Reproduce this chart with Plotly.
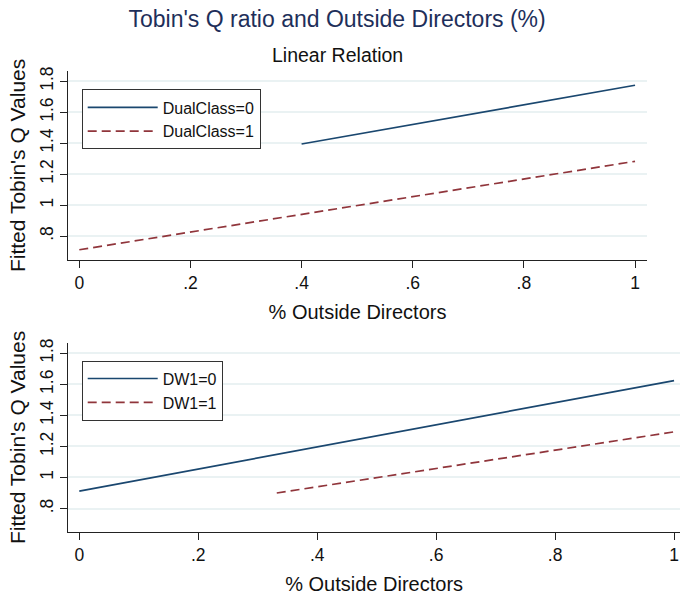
import plotly.graph_objects as go

# ---- data ----
x_ticks = [0, 0.2, 0.4, 0.6, 0.8, 1]
x_tick_labels = ["0", ".2", ".4", ".6", ".8", "1"]
y_ticks = [0.8, 1.0, 1.2, 1.4, 1.6, 1.8]
y_tick_labels = [".8", "1", "1.2", "1.4", "1.6", "1.8"]

dual0_x = [0.4, 1.0]
dual0_y = [1.395, 1.774]
dual1_x = [0.0, 1.0]
dual1_y = [0.712, 1.283]

dw0_x = [0.0, 1.0]
dw0_y = [0.912, 1.624]
dw1_x = [0.332, 1.0]
dw1_y = [0.900, 1.294]

BLUE = "#1a476f"
RED = "#90353b"
GRID = "#eaf2f3"
FONT = "Liberation Sans, Arial, sans-serif"

W, H = 681, 600

fig = go.Figure()
fig.add_trace(go.Scatter(x=dual0_x, y=dual0_y, mode="lines", name="DualClass=0",
                         line=dict(color=BLUE, width=1.7), xaxis="x", yaxis="y", legend="legend"))
fig.add_trace(go.Scatter(x=dual1_x, y=dual1_y, mode="lines", name="DualClass=1",
                         line=dict(color=RED, width=1.7, dash="9px,5px"), xaxis="x", yaxis="y", legend="legend"))
fig.add_trace(go.Scatter(x=dw0_x, y=dw0_y, mode="lines", name="DW1=0",
                         line=dict(color=BLUE, width=1.7), xaxis="x2", yaxis="y2", legend="legend2"))
fig.add_trace(go.Scatter(x=dw1_x, y=dw1_y, mode="lines", name="DW1=1",
                         line=dict(color=RED, width=1.7, dash="9px,5px"), xaxis="x2", yaxis="y2", legend="legend2"))

def xaxis(domain, rng, anchor):
    return dict(domain=domain, range=rng, anchor=anchor, tickvals=x_ticks, ticktext=x_tick_labels,
                showgrid=False, zeroline=False, showline=True, linecolor="#222", linewidth=1,
                ticks="outside", ticklen=7, tickcolor="#222", tickwidth=1,
                tickfont=dict(size=17.5, color="#111", family=FONT),
                title=dict(text="% Outside Directors", font=dict(size=20, color="#111", family=FONT), standoff=12))

def yaxis(domain, rng, anchor):
    return dict(domain=domain, range=rng, anchor=anchor, tickvals=y_ticks, ticktext=y_tick_labels,
                showgrid=True, gridcolor=GRID, gridwidth=1.5, zeroline=False, showline=True,
                linecolor="#222", linewidth=1, ticks="outside", ticklen=7, tickcolor="#222", tickwidth=1,
                tickangle=-90, tickfont=dict(size=17.5, color="#111", family=FONT),
                title=dict(text="Fitted Tobin's Q Values", font=dict(size=21, color="#111", family=FONT), standoff=5))

legend_style = dict(xanchor="left", yanchor="top", bordercolor="#333", borderwidth=1, bgcolor="white",
                    font=dict(size=16, color="#111", family=FONT), itemwidth=70)

fig.update_layout(
    width=W, height=H,
    margin=dict(l=0, r=0, t=0, b=0),
    paper_bgcolor="white", plot_bgcolor="white",
    font=dict(family=FONT),
    title=dict(text="Tobin's Q ratio and Outside Directors (%)", x=0.495, xanchor="center",
               y=1 - 19 / H, yanchor="middle", font=dict(size=23, color="#1e2f5a", family=FONT)),
    xaxis=xaxis([68.3 / W, 646.7 / W], [-0.0198, 1.021], "y"),
    yaxis=yaxis([1 - 258 / H, 1 - 67 / H], [0.644, 1.869], "x"),
    xaxis2=xaxis([68.3 / W, 680 / W], [-0.0185, 1.010], "y2"),
    yaxis2=yaxis([1 - 531.7 / H, 1 - 341 / H], [0.648, 1.868], "x2"),
    legend=dict(x=81.7 / W, y=1 - 86 / H, **legend_style),
    legend2=dict(x=81.7 / W, y=1 - 359 / H, **legend_style),
    annotations=[dict(text="Linear Relation", x=0.495, y=1 - 51 / H, xref="paper", yref="paper",
                      xanchor="center", yanchor="middle", showarrow=False,
                      font=dict(size=19.5, color="#111", family=FONT))],
)

fig.write_html("out.html", config={"displayModeBar": False},
               post_script="document.body.style.margin='0';document.body.style.overflow='hidden';")
